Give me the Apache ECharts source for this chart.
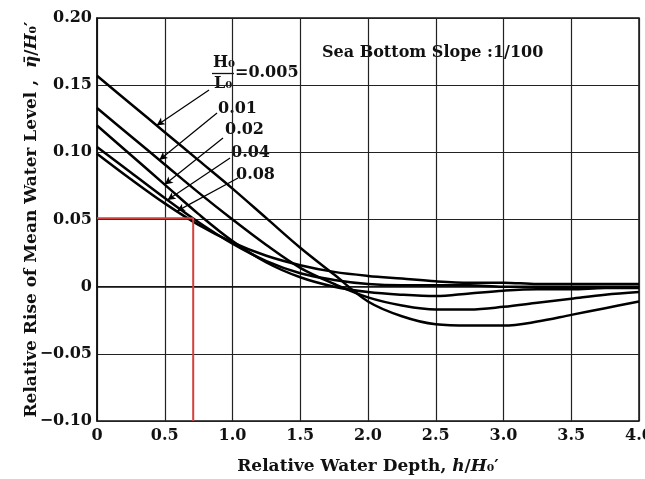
<!DOCTYPE html>
<html>
<head>
<meta charset="utf-8">
<script src="https://cdn.jsdelivr.net/npm/echarts@6/dist/echarts.min.js"></script>
<style>
html,body{margin:0;padding:0;background:#ffffff;}
#chart{width:645px;height:479px;}
</style>
</head>
<body>
<div id="chart"></div>
<script>
// ---- data ----
const depth = [0, 0.25, 0.5, 0.75, 1.0, 1.25, 1.5, 1.75, 2.0, 2.25, 2.5, 2.75, 3.0, 3.25, 3.5, 3.75, 4.0];
const steepness = ['0.005', '0.01', '0.02', '0.04', '0.08'];
const rise0005 = [0.157, 0.136, 0.115, 0.094, 0.073, 0.051, 0.029, 0.009, -0.011, -0.022, -0.028, -0.029, -0.029, -0.026, -0.021, -0.016, -0.011];
const rise001  = [0.133, 0.112, 0.091, 0.070, 0.050, 0.031, 0.014, 0.002, -0.008, -0.014, -0.017, -0.017, -0.015, -0.012, -0.009, -0.006, -0.004];
const rise002  = [0.120, 0.098, 0.076, 0.054, 0.034, 0.018, 0.007, 0.000, -0.004, -0.006, -0.007, -0.005, -0.003, -0.002, -0.002, -0.001, -0.001];
const rise004  = [0.104, 0.085, 0.066, 0.048, 0.032, 0.019, 0.010, 0.005, 0.002, 0.001, 0.001, 0.001, 0.000, 0.000, 0.000, 0.000, 0.000];
const rise008  = [0.099, 0.080, 0.062, 0.046, 0.033, 0.023, 0.016, 0.011, 0.008, 0.006, 0.004, 0.003, 0.003, 0.002, 0.002, 0.002, 0.002];
const xTicks = ['0', '0.5', '1.0', '1.5', '2.0', '2.5', '3.0', '3.5', '4.0'];
const yTicks = ['−0.10', '−0.05', '0', '0.05', '0.10', '0.15', '0.20'];
// leader (arrow) lines: label anchor [depth, rise] and depth where the arrow touches the curve
const leaderFrom = [[0.827, 0.1464], [0.886, 0.1293], [0.93, 0.1107], [0.982, 0.0958], [1.041, 0.0809]];
const leaderTipDepth = [0.44, 0.46, 0.50, 0.52, 0.59];
// red reading example
const exampleDepth = 0.71;
const exampleRise = 0.051;

// ---- chart ----
const allRise = [rise0005, rise001, rise002, rise004, rise008];
const FONT = 'DejaVu Serif';
function interp(arr, x) {
  for (let i = 0; i < depth.length - 1; i++) {
    if (x >= depth[i] && x <= depth[i + 1]) {
      const t = (x - depth[i]) / (depth[i + 1] - depth[i]);
      return arr[i] + t * (arr[i + 1] - arr[i]);
    }
  }
  return arr[arr.length - 1];
}
const series = allRise.map((arr, k) => ({
  name: 'H0/L0=' + steepness[k],
  type: 'line',
  data: depth.map((d, i) => [d, arr[i]]),
  showSymbol: false,
  smooth: 0.35,
  lineStyle: { color: '#000', width: 2.5 },
  z: 3,
  markLine: {
    silent: true,
    symbol: ['none', 'arrow'],
    symbolSize: [6, 8],
    label: { show: false },
    lineStyle: { color: '#000', width: 1.2, type: 'solid' },
    data: [[{ coord: leaderFrom[k] }, { coord: [leaderTipDepth[k], interp(arr, leaderTipDepth[k])] }]]
  }
}));
series.push({
  name: 'example',
  type: 'line',
  data: [[0, exampleRise], [exampleDepth, exampleRise], [exampleDepth, -0.10]],
  showSymbol: false,
  lineStyle: { color: '#d2423f', width: 2 },
  z: 4
});

const chart = echarts.init(document.getElementById('chart'), null, { renderer: 'canvas' });
const labelStyle = { fontFamily: FONT, fontWeight: 'bold', fontSize: 16, color: '#111' };
chart.setOption({
  animation: false,
  backgroundColor: '#ffffff',
  grid: { left: 97, right: 6, top: 18, bottom: 58, outerBoundsMode: 'none', containLabel: false,
    show: true, borderColor: '#111', borderWidth: 1.5 },
  xAxis: {
    type: 'value', min: 0, max: 4, interval: 0.5,
    name: 'Relative Water Depth, {i|h}/{i|H}₀′',
    nameLocation: 'middle', nameGap: 37, nameMoveOverlap: false,
    nameTextStyle: { fontFamily: FONT, fontWeight: 'bold', fontSize: 17, color: '#111',
      rich: { i: { fontFamily: FONT, fontStyle: 'italic', fontWeight: 'bold', fontSize: 17, color: '#111' } } },
    axisLine: { show: true, lineStyle: { color: '#111', width: 1.5 } },
    axisTick: { show: false },
    axisLabel: Object.assign({ margin: 7, hideOverlap: false, formatter: (v) => xTicks[Math.round(v / 0.5)] }, labelStyle),
    splitLine: { show: true, lineStyle: { color: '#222', width: 1.2 } }
  },
  yAxis: {
    type: 'value', min: -0.10, max: 0.20, interval: 0.05,
    name: 'Relative Rise of Mean Water Level ,  {i|η̄}/{i|H}₀′',
    nameLocation: 'middle', nameGap: 57, nameRotate: 90, nameMoveOverlap: false,
    nameTextStyle: { fontFamily: FONT, fontWeight: 'bold', fontSize: 17, color: '#111',
      rich: { i: { fontFamily: FONT, fontStyle: 'italic', fontWeight: 'bold', fontSize: 17, color: '#111' } } },
    axisLine: { show: true, lineStyle: { color: '#111', width: 1.5 } },
    axisTick: { show: false },
    axisLabel: Object.assign({ margin: 5, formatter: (v) => yTicks[Math.round((v + 0.10) / 0.05)] }, labelStyle),
    splitLine: { show: true, lineStyle: { color: '#222', width: 1.2 } }
  },
  graphic: [
    { type: 'text', left: 322, top: 45, style: { text: 'Sea Bottom Slope :1/100', font: 'bold 16px "DejaVu Serif"', fill: '#111' } },
    { type: 'text', left: 213, top: 55, style: { text: 'H₀', font: 'bold 16px "DejaVu Serif"', fill: '#111' } },
    { type: 'line', shape: { x1: 212, y1: 73.5, x2: 234, y2: 73.5 }, style: { stroke: '#111', lineWidth: 1.3 } },
    { type: 'text', left: 214, top: 76, style: { text: 'L₀', font: 'bold 16px "DejaVu Serif"', fill: '#111' } },
    { type: 'text', left: 235, top: 65, style: { text: '=' + steepness[0], font: 'bold 16px "DejaVu Serif"', fill: '#111' } },
    { type: 'text', left: 218, top: 101, style: { text: steepness[1], font: 'bold 16px "DejaVu Serif"', fill: '#111' } },
    { type: 'text', left: 225, top: 122, style: { text: steepness[2], font: 'bold 16px "DejaVu Serif"', fill: '#111' } },
    { type: 'text', left: 231, top: 145, style: { text: steepness[3], font: 'bold 16px "DejaVu Serif"', fill: '#111' } },
    { type: 'text', left: 236, top: 167, style: { text: steepness[4], font: 'bold 16px "DejaVu Serif"', fill: '#111' } }
  ],
  series: series
});
</script>
</body>
</html>
